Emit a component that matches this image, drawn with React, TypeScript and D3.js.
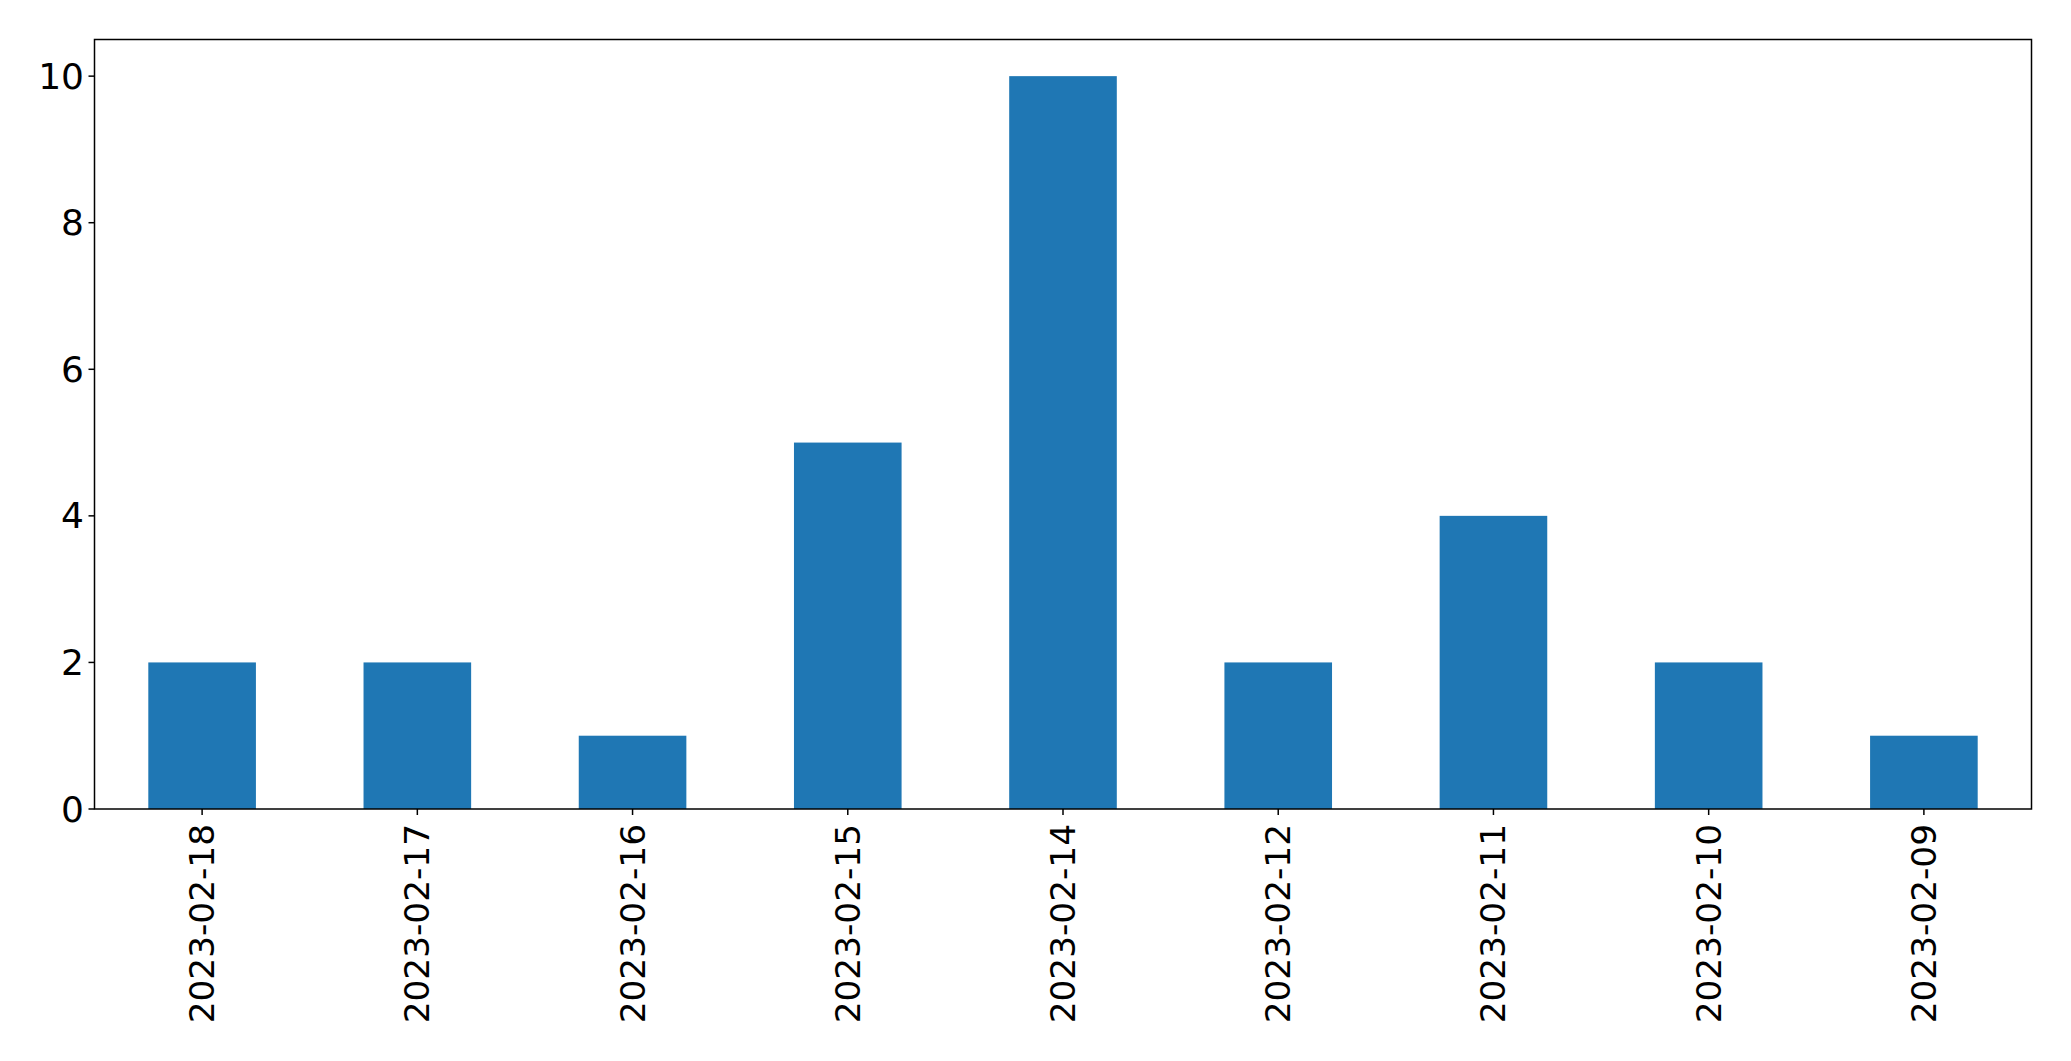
import React from "react";
import * as d3 from "d3";

const categories = ["2023-02-18","2023-02-17","2023-02-16","2023-02-15","2023-02-14","2023-02-12","2023-02-11","2023-02-10","2023-02-09"];
const values = [2,2,1,5,10,2,4,2,1];
const yTicks = [0,2,4,6,8,10];

export default function App() {
  const W = 2071, H = 1061;
  const left = 94.5, right = 2031.5, top = 39.5, bottom = 809;
  const x = d3.scaleLinear().domain([-0.5, categories.length - 0.5]).range([left, right]);
  const y = d3.scaleLinear().domain([0, 10.5]).range([bottom, top]);
  const bw = (x(1) - x(0)) * 0.5;
  const fsY = 36;
  const fsX = 34.3;
  return (
    <svg width={W} height={H} style={{ position: "absolute", left: 0, top: 0, background: "#fff" }}
      fontFamily="DejaVu Sans">
      <rect x={0} y={0} width={W} height={H} fill="#fff" />
      {values.map((v, i) => (
        <rect key={i} x={x(i) - bw / 2} y={y(v)} width={bw} height={y(0) - y(v)} fill="#1f77b4" />
      ))}
      <rect x={left} y={top} width={right - left} height={bottom - top} fill="none" stroke="#000" strokeWidth={1.5} />
      {yTicks.map(t => (
        <g key={t}>
          <line x1={left - 6} x2={left} y1={y(t)} y2={y(t)} stroke="#000" strokeWidth={1.5} />
          <text x={left - 10.5} y={y(t)} textAnchor="end" dominantBaseline="central" fontSize={fsY}>{t}</text>
        </g>
      ))}
      {categories.map((c, i) => (
        <g key={c}>
          <line x1={x(i)} x2={x(i)} y1={bottom} y2={bottom + 6} stroke="#000" strokeWidth={1.5} />
          <text transform={`translate(${x(i)},${bottom + 15}) rotate(-90)`} textAnchor="end" dominantBaseline="central" fontSize={fsX}>{c}</text>
        </g>
      ))}
    </svg>
  );
}
